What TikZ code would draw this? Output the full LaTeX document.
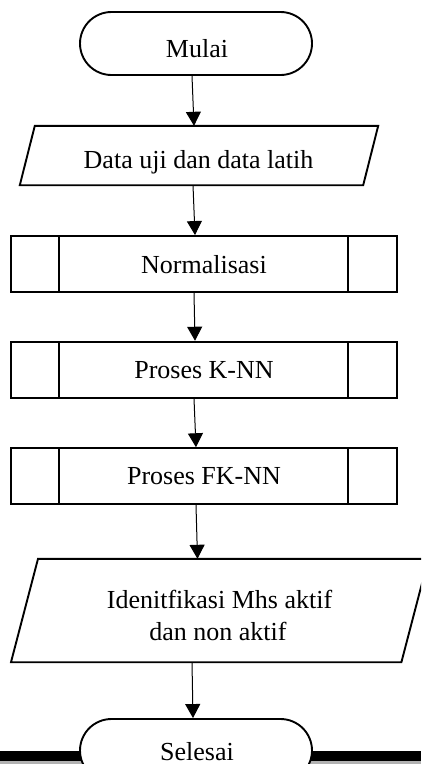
\documentclass[tikz,border=0pt]{standalone}
\usepackage{fontspec}
\setmainfont{Liberation Serif}
\usetikzlibrary{shapes.misc,arrows.meta}
\begin{document}
\begin{tikzpicture}[x=1pt,y=-1pt,
  box/.style={draw,line width=1.9pt,inner sep=0pt},
  terminal/.style={box,rounded rectangle,minimum width=232pt,minimum height=63pt,fill=white},
  subproc/.style={box,rectangle,minimum width=386pt,minimum height=56pt,
    path picture={\draw[line width=1.9pt]
      ([xshift=48pt]path picture bounding box.north west) -- ([xshift=48pt]path picture bounding box.south west)
      ([xshift=-49pt]path picture bounding box.north east) -- ([xshift=-49pt]path picture bounding box.south east);}},
  iobox/.style={inner sep=0pt,rectangle},
  para/.style={line width=1.9pt},
  txt/.style={anchor=base,font=\fontsize{26}{32}\selectfont,inner sep=0pt},
  flow/.style={line width=1pt,-{Triangle[width=15pt,length=14pt]}}]
\clip (0,0) rectangle (421,764);
% bottom band
\fill[black!30] (0,760.5) rectangle (421,764);
\fill[black] (0,751) rectangle (421,760.5);

\node[terminal] (start) at (196,43.5) {};
\node[txt] (startT) at (197,57) {Mulai};

\node[iobox,minimum width=343pt,minimum height=59pt] (in) at (199,155.5) {};
\draw[para] ([xshift=7.5pt]in.north west) -- ([xshift=7.5pt]in.north east) -- ([xshift=-7.5pt]in.south east) -- ([xshift=-7.5pt]in.south west) -- cycle;
\node[txt] (inT) at (198.5,168) {Data uji dan data latih};

\node[subproc] (norm) at (204,264) {};
\node[txt] (normT) at (204,273) {Normalisasi};

\node[subproc] (knn) at (204,369.7) {};
\node[txt] (knnT) at (204,378) {Proses K-NN};

\node[subproc] (fknn) at (204,476.2) {};
\node[txt] (fknnT) at (204,484) {Proses FK-NN};

\node[iobox,minimum width=390pt,minimum height=103pt] (out) at (219.7,610.5) {};
\draw[para] ([xshift=13.5pt]out.north west) -- ([xshift=13.5pt]out.north east) -- ([xshift=-13.5pt]out.south east) -- ([xshift=-13.5pt]out.south west) -- cycle;
\node[txt] (outT1) at (219.5,608) {Idenitfikasi Mhs aktif};
\node[txt] (outT2) at (218,640) {dan non aktif};

\node[terminal] (end) at (196,750.5) {};
\node[txt] (endT) at (197,760) {Selesai};

\draw[flow] ([xshift=-4pt]start.south) -- ([xshift=-5pt]in.north);
\draw[flow] ([xshift=-6pt]in.south) -- ([xshift=-9pt]norm.north);
\draw[flow] ([xshift=-10pt]norm.south) -- ([xshift=-9pt]knn.north);
\draw[flow] ([xshift=-10pt]knn.south) -- ([xshift=-8pt]fknn.north);
\draw[flow] ([xshift=-8pt]fknn.south) -- ([xshift=-22.2pt]out.north);
\draw[flow] ([xshift=-27.7pt]out.south) -- ([xshift=-3pt]end.north);
\end{tikzpicture}
\end{document}
